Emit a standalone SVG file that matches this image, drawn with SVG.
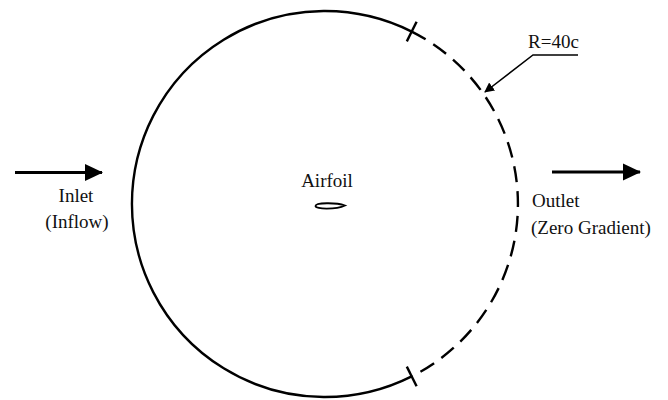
<svg xmlns="http://www.w3.org/2000/svg" width="668" height="400" viewBox="0 0 668 400">
<style>
.t{font-family:"Liberation Serif","Times New Roman",serif;font-size:19px;fill:#111}
.b{fill:none;stroke:#000;stroke-width:2.4}
</style>
<defs>
<marker id="ah" markerWidth="10" markerHeight="10" refX="9" refY="5" orient="auto" markerUnits="userSpaceOnUse" viewBox="0 0 10 10">
<path d="M0,0 L10,5 L0,10 Z" fill="#000"/>
</marker>
<marker id="big" markerWidth="18" markerHeight="18" refX="17" refY="9" orient="auto" markerUnits="userSpaceOnUse" viewBox="0 0 18 18">
<path d="M0,0.5 L18,9 L0,17.5 Z" fill="#000"/>
</marker>
</defs>
<rect width="668" height="400" fill="#fff"/>
<g id="domain">
<path class="b" d="M411.7 31.6 A193 193 0 1 0 411.7 376.4"/>
<path class="b" d="M411.7 31.6 A193 193 0 0 1 411.7 376.4" stroke-dasharray="16 9"/>
<line class="b" x1="416.6" y1="21.8" x2="406.8" y2="41.4"/>
<line class="b" x1="406.8" y1="366.6" x2="416.6" y2="386.2"/>
</g>
<g id="airfoil">
<path d="M315.5 206 C315.5 202.5 336 202.3 345 205.5 C336 209.7 315.5 209.5 315.5 206 Z" fill="none" stroke="#000" stroke-width="1.8"/>
<text class="t" x="327" y="187" text-anchor="middle">Airfoil</text>
</g>
<g id="inlet">
<text class="t" x="76" y="202" text-anchor="middle">Inlet</text>
<text class="t" x="77" y="228" text-anchor="middle">(Inflow)</text>
</g>
<g id="outlet">
<text class="t" x="532" y="207">Outlet</text>
<text class="t" x="531" y="234">(Zero Gradient)</text>
</g>
<g id="radius-label">
<text class="t" x="528" y="48">R=40c</text>
</g>
<g id="connectors">
<line x1="15" y1="172.5" x2="102" y2="172.5" stroke="#000" stroke-width="3.2" marker-end="url(#big)"/>
<line x1="552" y1="172" x2="640" y2="172" stroke="#000" stroke-width="3.2" marker-end="url(#big)"/>
<polyline points="578,55 533,55 485,92" fill="none" stroke="#000" stroke-width="1.5" marker-end="url(#ah)"/>
</g>
</svg>
